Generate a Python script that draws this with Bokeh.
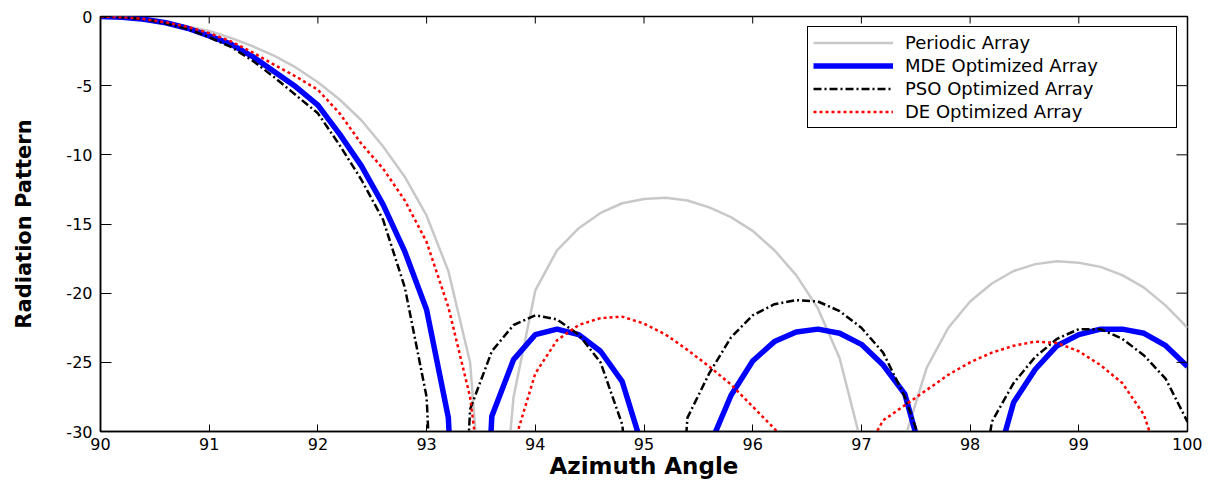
from bokeh.plotting import figure
from bokeh.models import FixedTicker
from bokeh.embed import file_html
from bokeh.resources import INLINE

# ---- data ----
angle = [90.0, 90.2, 90.4, 90.6, 90.8, 91.0, 91.2, 91.4, 91.6, 91.8,
         92.0, 92.2, 92.4, 92.6, 92.8, 93.0, 93.2, 93.4, 93.6, 93.8,
         94.0, 94.2, 94.4, 94.6, 94.8, 95.0, 95.2, 95.4, 95.6, 95.8,
         96.0, 96.2, 96.4, 96.6, 96.8, 97.0, 97.2, 97.4, 97.6, 97.8,
         98.0, 98.2, 98.4, 98.6, 98.8, 99.0, 99.2, 99.4, 99.6, 99.8,
         100.0]

periodic = [0.0, -0.04, -0.18, -0.40, -0.72, -1.05, -1.55, -2.15, -2.85, -3.7,
            -4.75, -6.0, -7.5, -9.4, -11.6, -14.4, -18.4, -25.0, -45.0, -27.5,
            -19.8, -16.9, -15.3, -14.2, -13.5, -13.2, -13.1, -13.3, -13.8, -14.5,
            -15.5, -16.9, -18.7, -21.1, -24.7, -30.9, -50.0, -30.5, -25.4, -22.5,
            -20.6, -19.3, -18.4, -17.9, -17.7, -17.8, -18.1, -18.7, -19.6, -20.9,
            -22.5]

mde = [0.0, -0.05, -0.2, -0.45, -0.85, -1.4, -2.0, -2.9, -4.0, -5.1,
       -6.4, -8.5, -10.8, -13.6, -17.0, -21.2, -29.0, -60.0, -28.9, -24.8,
       -23.0, -22.6, -23.0, -24.2, -26.4, -31.5, -45.0, -40.0, -31.1, -27.4,
       -24.9, -23.5, -22.8, -22.6, -22.9, -23.7, -25.2, -27.3, -33.0, -45.0,
       -42.0, -33.5, -27.9, -25.5, -23.8, -23.0, -22.6, -22.6, -22.9, -23.8,
       -25.3]

pso = [0.0, -0.05, -0.2, -0.5, -0.9, -1.5, -2.2, -3.2, -4.4, -5.7,
       -7.0, -9.3, -11.8, -14.7, -19.6, -27.5, -60.0, -28.4, -24.2, -22.3,
       -21.6, -21.9, -23.0, -25.0, -29.5, -45.0, -50.0, -29.0, -25.8, -23.2,
       -21.6, -20.8, -20.5, -20.6, -21.3, -22.5, -24.3, -27.5, -32.0, -45.0,
       -40.0, -29.3, -26.5, -24.6, -23.3, -22.6, -22.6, -23.3, -24.5, -26.2,
       -29.3]

de = [0.0, -0.05, -0.18, -0.42, -0.75, -1.2, -1.8, -2.6, -3.5, -4.35,
      -5.3, -7.0, -9.2, -11.0, -13.3, -16.3, -21.0, -27.5, -40.0, -31.0,
      -25.8, -23.4, -22.3, -21.8, -21.7, -22.2, -23.0, -24.1, -25.3, -26.6,
      -28.2, -29.8, -31.5, -40.0, -45.0, -32.0, -29.2, -28.1, -27.0, -25.9,
      -25.0, -24.3, -23.8, -23.5, -23.6, -24.2, -25.2, -26.5, -28.8, -33.6,
      -45.0]

series_names = ["Periodic Array", "MDE Optimized Array",
                "PSO Optimized Array", "DE Optimized Array"]
x_ticks = [90, 91, 92, 93, 94, 95, 96, 97, 98, 99, 100]
y_ticks = [-30, -25, -20, -15, -10, -5, 0]
y_tick_labels = ["-30", "-25", "-20", "-15", "-10", "-5", "0"]
x_title = "Azimuth Angle"
y_title = "Radiation Pattern"

FONT = "DejaVu Sans"
X0, X1 = 90, 100
Y0, Y1 = -30, 0

# frame geometry (pixels)
BL, BR, BT, BB = 100, 15, 16, 52
FW, FH = 1087, 415

p = figure(width=BL + FW + BR, height=BT + FH + BB,
           x_range=(X0, X1), y_range=(Y0, Y1),
           output_backend="svg", toolbar_location=None,
           min_border_left=BL, min_border_right=BR,
           min_border_top=BT, min_border_bottom=BB)
p.xgrid.visible = False
p.ygrid.visible = False
p.outline_line_color = "black"
p.outline_line_width = 1.5
p.background_fill_color = "white"
p.border_fill_color = "white"

p.line(angle, periodic, line_color="#c8c8c8", line_width=2.5,
       legend_label=series_names[0])
p.line(angle, mde, line_color="#0000ff", line_width=5.5,
       legend_label=series_names[1])
p.line(angle, pso, line_color="black", line_width=2.5, line_dash="8 3 2 3",
       legend_label=series_names[2])
p.line(angle, de, line_color="#ff0000", line_width=2.5, line_dash="3 3",
       legend_label=series_names[3])

# inward ticks on the top and right edges of the box
XT_LEN = 7 * (Y1 - Y0) / FH     # 7 px, in data units
YT_LEN = 11 * (X1 - X0) / FW    # 11 px, in data units
p.segment(x0=x_ticks, y0=[Y1] * len(x_ticks), x1=x_ticks,
          y1=[Y1 - XT_LEN] * len(x_ticks), line_color="black", line_width=1)
p.segment(x0=[X1] * len(y_ticks), y0=y_ticks, x1=[X1 - YT_LEN] * len(y_ticks),
          y1=y_ticks, line_color="black", line_width=1)

# bottom axis
xa = p.xaxis[0]
xa.ticker = FixedTicker(ticks=x_ticks)
xa.major_tick_in = 7
xa.major_tick_out = 0
xa.minor_tick_in = 0
xa.minor_tick_out = 0
xa.major_label_standoff = 6
xa.major_label_text_font = FONT
xa.major_label_text_font_size = "16px"
xa.major_label_text_color = "black"
xa.axis_line_color = "black"
xa.axis_line_width = 1.5
xa.major_tick_line_color = "black"
xa.axis_label = x_title
xa.axis_label_text_font = FONT
xa.axis_label_text_font_style = "bold"
xa.axis_label_text_font_size = "23px"
xa.axis_label_text_color = "black"
xa.axis_label_standoff = 0

# left axis
ya = p.yaxis[0]
ya.ticker = FixedTicker(ticks=y_ticks)
ya.major_label_overrides = {t: s for t, s in zip(y_ticks, y_tick_labels)}
ya.major_tick_in = 11
ya.major_tick_out = 0
ya.minor_tick_in = 0
ya.minor_tick_out = 0
ya.major_label_standoff = 8
ya.major_label_text_font = FONT
ya.major_label_text_font_size = "16px"
ya.major_label_text_color = "black"
ya.axis_line_color = "black"
ya.axis_line_width = 1.5
ya.major_tick_line_color = "black"
ya.axis_label = y_title
ya.axis_label_text_font = FONT
ya.axis_label_text_font_style = "bold"
ya.axis_label_text_font_size = "21px"
ya.axis_label_text_color = "black"
ya.axis_label_standoff = 27

# legend
lg = p.legend[0]
lg.location = "top_right"
lg.margin = 10
lg.padding = 5
lg.spacing = 2
lg.label_height = 21
lg.glyph_height = 21
lg.glyph_width = 80
lg.label_standoff = 12
lg.label_width = 266
lg.label_text_font = FONT
lg.label_text_font_size = "18px"
lg.label_text_color = "black"
lg.border_line_color = "black"
lg.border_line_width = 1.5
lg.border_line_alpha = 1.0
lg.background_fill_color = "white"
lg.background_fill_alpha = 1.0

open("out.html", "w").write(file_html(p, INLINE))
